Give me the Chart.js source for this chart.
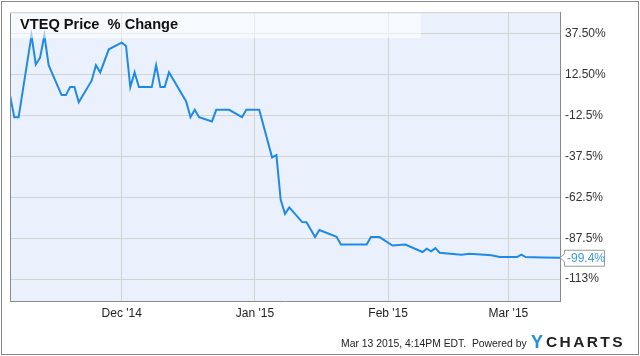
<!DOCTYPE html>
<html>
<head>
<meta charset="utf-8">
<script src="https://cdn.jsdelivr.net/npm/chart.js@4"></script>
<style>
  html, body { margin: 0; padding: 0; background: #fff; }
  #wrap { width: 640px; height: 356px; position: relative; }
</style>
</head>
<body>
<div id="wrap"><canvas id="chart" width="640" height="356"></canvas></div>
<script>
// Trading days (vertices) and % change since Nov 5 2014
const dates = [
    '2014-11-05', '2014-11-06', '2014-11-07', '2014-11-10', '2014-11-11', '2014-11-12',
    '2014-11-13', '2014-11-14', '2014-11-17', '2014-11-18', '2014-11-19', '2014-11-20',
    '2014-11-21', '2014-11-24', '2014-11-25', '2014-11-26', '2014-11-28', '2014-12-01',
    '2014-12-02', '2014-12-03', '2014-12-04', '2014-12-05', '2014-12-08', '2014-12-09',
    '2014-12-10', '2014-12-11', '2014-12-12', '2014-12-16', '2014-12-17', '2014-12-18',
    '2014-12-19', '2014-12-22', '2014-12-23', '2014-12-26', '2014-12-29', '2014-12-30',
    '2015-01-02', '2015-01-05', '2015-01-06', '2015-01-07', '2015-01-08', '2015-01-09',
    '2015-01-12', '2015-01-13', '2015-01-15', '2015-01-16', '2015-01-20', '2015-01-21',
    '2015-01-27', '2015-01-28', '2015-01-30', '2015-02-02', '2015-02-05', '2015-02-09',
    '2015-02-10', '2015-02-11', '2015-02-12', '2015-02-13', '2015-02-18', '2015-02-20',
    '2015-02-25', '2015-02-27', '2015-03-03', '2015-03-04', '2015-03-05', '2015-03-09',
    '2015-03-13'
];
const changes = [
    0.0, -13.6, -13.6, 36.5, 18.7, 22.9,
    36.5, 18.3, 0.0, 0.0, 4.9, 4.9,
    -4.4, 8.8, 18.3, 13.9, 28.0, 32.0,
    30.0, 4.9, 13.9, 4.9, 4.9, 18.3,
    4.9, 4.9, 13.9, -3.9, -13.5, -9.0,
    -13.5, -16.1, -9.0, -9.0, -13.5, -9.0,
    -9.0, -38.1, -36.7, -64.0, -72.6, -68.6,
    -77.6, -77.7, -86.8, -82.5, -86.6, -91.3,
    -91.3, -86.8, -86.8, -91.9, -91.3, -95.9,
    -93.9, -95.5, -93.5, -96.3, -97.5, -96.9,
    -97.9, -99.0, -99.0, -97.5, -99.0, -99.3,
    -99.4
];

const yTicks = [37.5, 12.5, -12.5, -37.5, -62.5, -87.5, -112.5];
const yTickLabels = ['37.50%', '12.50%', '-12.5%', '-37.5%', '-62.5%', '-87.5%', '-113%'];
const xTickDates = ['2014-12-01', '2015-01-01', '2015-02-01', '2015-03-01'];
const xTickLabels = ["Dec '14", "Jan '15", "Feb '15", "Mar '15"];

const titleText = 'VTEQ Price  % Change';
const lastLabel = '-99.4%';
const footerText = 'Mar 13 2015, 4:14PM EDT.  Powered by';

// day numbers relative to Dec 1 2014 (linear x axis, no date adapter)
const base = Date.UTC(2014, 11, 1);
function dayNum(s) {
    const p = s.split('-').map(Number);
    return Math.round((Date.UTC(p[0], p[1] - 1, p[2]) - base) / 86400000);
}
const points = dates.map((d, i) => ({ x: dayNum(d), y: changes[i] }));
const xTicks = xTickDates.map(dayNum);

const FONT = '"Liberation Sans", Arial, sans-serif';
const lineColor = '#1e8ae6';

const decorPlugin = {
    id: 'decor',
    beforeDraw(chart) {
        const { ctx, chartArea: a } = chart;
        ctx.save();
        ctx.fillStyle = '#fff';
        ctx.fillRect(0, 0, chart.width, chart.height);
        ctx.fillStyle = '#eaf1fc';
        ctx.fillRect(a.left, a.top, a.right - a.left, a.bottom - a.top);
        ctx.restore();
    },
    afterDatasetsDraw(chart) {
        const { ctx, chartArea: a } = chart;
        ctx.save();
        // title band
        ctx.fillStyle = 'rgba(255,255,255,0.55)';
        ctx.fillRect(a.left + 1, a.top + 1, 410, 25);
        ctx.fillStyle = '#111';
        ctx.font = 'bold 14.6px ' + FONT;
        ctx.textBaseline = 'alphabetic';
        ctx.fillText(titleText, 20, 29);

        // plot frame: left and top
        ctx.strokeStyle = '#8a8a8a';
        ctx.lineWidth = 1;
        ctx.beginPath();
        ctx.moveTo(a.left + 0.5, a.bottom);
        ctx.lineTo(a.left + 0.5, a.top + 0.5);
        ctx.stroke();
        ctx.strokeStyle = '#cfcfcf';
        ctx.beginPath();
        ctx.moveTo(a.left, a.top + 0.5);
        ctx.lineTo(a.right, a.top + 0.5);
        ctx.stroke();
        ctx.restore();
    },
    afterDraw(chart) {
        const { ctx, chartArea: a, scales } = chart;
        ctx.save();
        // outer frame
        ctx.strokeStyle = '#8a8a8a';
        ctx.lineWidth = 1;
        ctx.strokeRect(1.5, 1.5, 637, 353);

        // last value flag
        const yv = scales.y.getPixelForValue(changes[changes.length - 1]);
        const x0 = a.right + 4, w = 40, h = 16;
        ctx.beginPath();
        ctx.moveTo(x0 - 4, yv);
        ctx.lineTo(x0 + 0.5, yv - 4);
        ctx.lineTo(x0 + 0.5, yv - h / 2 + 0.5);
        ctx.lineTo(x0 + w + 0.5, yv - h / 2 + 0.5);
        ctx.lineTo(x0 + w + 0.5, yv + h / 2 + 0.5);
        ctx.lineTo(x0 + 0.5, yv + h / 2 + 0.5);
        ctx.lineTo(x0 + 0.5, yv + 4);
        ctx.closePath();
        ctx.fillStyle = '#fff';
        ctx.fill();
        ctx.strokeStyle = '#9a9a9a';
        ctx.stroke();
        ctx.fillStyle = '#3a9bea';
        ctx.font = '12px ' + FONT;
        ctx.textBaseline = 'middle';
        ctx.fillText(lastLabel, x0 + 3, yv + 1);

        // footer, squeezed to the width it has in the original
        ctx.fillStyle = '#222';
        ctx.font = '11px ' + FONT;
        ctx.textBaseline = 'middle';
        const fw = ctx.measureText(footerText).width;
        ctx.font = (11 * 186 / fw).toFixed(2) + 'px ' + FONT;
        ctx.fillText(footerText, 341, 344);

        ctx.font = 'bold 18px ' + FONT;
        ctx.fillStyle = '#1f8fe0';
        ctx.fillText('Y', 531, 343);
        ctx.fillStyle = '#222';
        ctx.font = 'bold 15.5px ' + FONT;
        ctx.letterSpacing = '2.4px';
        ctx.fillText('CHARTS', 546, 343);
        ctx.restore();
    }
};

new Chart(document.getElementById('chart'), {
    type: 'line',
    data: {
        datasets: [{
            data: points,
            borderColor: lineColor,
            borderWidth: 2,
            pointRadius: 0,
            tension: 0,
            fill: false
        }]
    },
    options: {
        responsive: false,
        animation: false,
        layout: { padding: { left: 10, top: 10, right: 0, bottom: 0 } },
        plugins: {
            legend: { display: false },
            tooltip: { enabled: false }
        },
        scales: {
            x: {
                type: 'linear',
                min: dayNum(dates[0]),
                max: dayNum(dates[dates.length - 1]),
                afterBuildTicks: scale => {
                    scale.ticks = xTicks.map(v => ({ value: v }));
                },
                afterFit: scale => { scale.height = 55; },
                ticks: {
                    color: '#222',
                    font: { family: FONT, size: 12 },
                    padding: 5,
                    maxRotation: 0,
                    autoSkip: false,
                    callback: (value) => xTickLabels[xTicks.indexOf(value)]
                },
                grid: { color: '#d3d3d3', drawTicks: false },
                border: { display: true, color: '#8a8a8a', width: 1 }
            },
            y: {
                position: 'right',
                min: -125.84,
                max: 50.66,
                afterBuildTicks: scale => {
                    scale.ticks = yTicks.map(v => ({ value: v }));
                },
                afterFit: scale => { scale.width = 80; },
                ticks: {
                    color: '#333',
                    font: { family: FONT, size: 12 },
                    padding: 5,
                    autoSkip: false,
                    callback: (value) => yTickLabels[yTicks.indexOf(value)]
                },
                grid: { color: '#d3d3d3', drawTicks: false },
                border: { display: true, color: '#8a8a8a', width: 1 }
            }
        }
    },
    plugins: [decorPlugin]
});
</script>
</body>
</html>
